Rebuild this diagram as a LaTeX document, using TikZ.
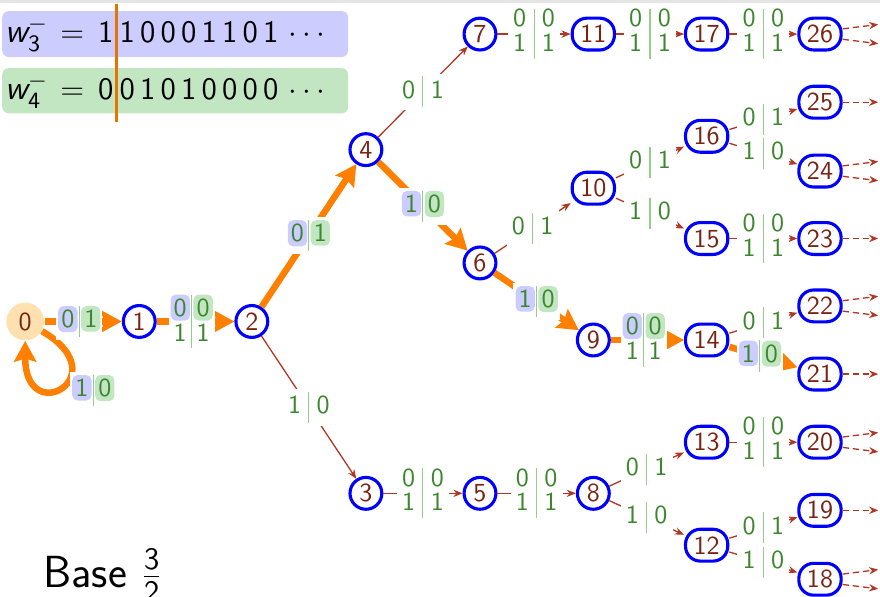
\documentclass[tikz,border=0pt]{standalone}
\usepackage{xcolor}
\usepackage{array}
\usepackage{tikz}
\usetikzlibrary{arrows.meta, positioning, calc}
\renewcommand{\familydefault}{\sfdefault}
\definecolor{stblue}{RGB}{0,0,255}
\definecolor{stbrown}{RGB}{120,35,20}
\definecolor{stfill}{RGB}{255,224,176}
\definecolor{trbrown}{RGB}{175,55,35}
\definecolor{lbgreen}{RGB}{60,135,45}
\definecolor{lbbar}{RGB}{150,205,140}
\definecolor{hlorange}{RGB}{255,128,0}
\definecolor{cutorange}{RGB}{232,116,0}
\definecolor{hlblue}{RGB}{204,204,255}
\definecolor{hlgreen}{RGB}{194,230,194}
% input|output pairs, one row or two rows (optional arg: gap at the bar)
\newcommand{\lab}[3][2.8pt]{{\setlength{\tabcolsep}{#1}%
  \begin{tabular}{@{}c!{{\color{lbbar}\vrule}}c@{}}#2&#3\end{tabular}}}
\newcommand{\labb}[5][2.8pt]{{\setlength{\tabcolsep}{#1}\renewcommand{\arraystretch}{0.78}%
  \begin{tabular}{@{}c!{{\color{lbbar}\vrule}}c@{}}#2&#3\\#4&#5\end{tabular}}}
% highlighted digits
\newcommand{\hb}[1]{\tikz[baseline]\node[anchor=base,fill=hlblue,rounded corners=2pt,
  inner xsep=1.2pt,inner ysep=1.5pt,text=lbgreen]{#1};}
\newcommand{\hg}[1]{\tikz[baseline]\node[anchor=base,fill=hlgreen,rounded corners=2pt,
  inner xsep=1.2pt,inner ysep=1.5pt,text=lbgreen]{#1};}
\tikzset{
  state/.style={circle,draw=stblue,line width=1.2pt,minimum size=0.43cm,inner sep=0pt,text=stbrown},
  wstate/.style={rectangle,rounded corners=0.2cm,draw=stblue,line width=1.2pt,
    minimum width=0.57cm,minimum height=0.43cm,inner sep=0pt,text=stbrown},
  start/.style={circle,fill=stfill,minimum size=0.51cm,inner sep=0pt,text=stbrown},
  trans/.style={draw=trbrown,line width=0.5pt,-{Stealth[length=3.5pt,width=2.8pt]}},
  more/.style={trans,dash pattern=on 2.5pt off 1.4pt},
  hlpath/.style={draw=hlorange,line width=2.5pt,-{Stealth[length=8pt,width=8.5pt,inset=1.2pt]}},
  elab/.style={fill=white,text=lbgreen,inner xsep=2pt,inner ysep=1pt},
  hlab/.style={elab,inner xsep=0.8pt},
  seq/.style={font=\fontsize{13}{15}\selectfont,inner sep=0pt},
  cutline/.style={draw=cutorange,line width=1.1pt}
}
\begin{document}
\begin{tikzpicture}
  \useasboundingbox (0,0) rectangle (11.88,8.05);
  \clip (0,0) rectangle (11.88,8.05);
  % header rule
  \fill[gray!20] (0,8.01) rectangle (11.88,8.05);

  % Digit sequences
  \fill[hlblue, rounded corners=2.5pt] (0.03,7.28) rectangle (4.70,7.90);
  \fill[hlgreen, rounded corners=2.5pt] (0.03,6.52) rectangle (4.70,7.13);
  \node[seq, anchor=base west] (w3head) at (0.07,7.47) {$\textsf{\itshape w}_{\mathsf{3}}^{-}\mkern2mu = \,\mathsf{1}$};
  \node[seq, anchor=base west] (w3tail) at ([xshift=2pt]w3head.base east) {$\mathsf{1\,0\,0\,0\,1\,1\,0\,1}\,\cdots$};
  \node[seq, anchor=base west] (w4head) at (0.07,6.70) {$\textsf{\itshape w}_{\mathsf{4}}^{-}\mkern2mu = \,\mathsf{0}$};
  \node[seq, anchor=base west] (w4tail) at ([xshift=2pt]w4head.base east) {$\mathsf{0\,1\,0\,1\,0\,0\,0\,0}\,\cdots$};
  \coordinate (cut) at ($(w3head.base east)!0.5!(w3tail.base west)$);
  \draw[cutline] (cut |- 0,8.00) -- (cut |- 0,6.40);

  % States
  \node[start] (s0) at (0.34,3.71) {0};
  \foreach \n/\x/\y in {1/1.88/3.71, 2/3.40/3.71, 3/4.94/1.39, 4/4.94/6.03, 5/6.48/1.39,
      6/6.48/4.50, 7/6.48/7.59, 8/8.01/1.39, 9/8.01/3.46}
    \node[state] (s\n) at (\x,\y) {\n};
  \foreach \n/\x/\y in {10/8.01/5.51, 11/8.01/7.59, 12/9.54/0.69, 13/9.54/2.08, 14/9.54/3.46,
      15/9.54/4.83, 16/9.54/6.21, 17/9.54/7.59, 18/11.07/0.23, 19/11.07/1.16, 20/11.07/2.08,
      21/11.07/3.00, 22/11.07/3.92, 23/11.07/4.83, 24/11.07/5.74, 25/11.07/6.67, 26/11.07/7.59}
    \node[wstate] (s\n) at (\x,\y) {\n};

  % Plain transitions
  \foreach \a/\b in {7/11, 11/17, 17/26, 15/23, 3/5, 5/8, 13/20}
    \draw[trans] (s\a) -- node[elab] {\labb{0}{0}{1}{1}} (s\b);
  \foreach \a/\b/\p/\q in {2/3/1/0, 4/7/0/1, 6/10/0/1, 10/16/0/1, 10/15/1/0, 16/25/0/1,
      16/24/1/0, 14/22/0/1, 8/13/0/1, 8/12/1/0, 12/19/0/1, 12/18/1/0}
    \draw[trans] (s\a) -- node[elab] {\lab{\p}{\q}} (s\b);

  % Highlighted run
  \draw[hlpath] (s0) to[out=-30, in=-90, distance=1.2cm] (s0);
  \node[hlab] (l00) at (1.26,2.78) {\lab[0.5pt]{\hb{1}}{\hg{0}}};
  \draw[hlpath] (s0) -- node[hlab, pos=0.45] {\lab[0.5pt]{\hb{0}}{\hg{1}}} (s1);
  \draw[hlpath] (s1) -- node[hlab, pos=0.45] {\labb[0.5pt]{\hb{0}}{\hg{0}}{1}{1}} (s2);
  \draw[hlpath] (s2) -- node[hlab] {\lab[0.5pt]{\hb{0}}{\hg{1}}} (s4);
  \draw[hlpath] (s4) -- node[hlab] {\lab[0.5pt]{\hb{1}}{\hg{0}}} (s6);
  \draw[hlpath] (s6) -- node[hlab] {\lab[0.5pt]{\hb{1}}{\hg{0}}} (s9);
  \draw[hlpath] (s9) -- node[hlab, pos=0.45] {\labb[0.5pt]{\hb{0}}{\hg{0}}{1}{1}} (s14);
  \draw[hlpath] (s14) -- node[hlab, pos=0.45] {\lab[0.5pt]{\hb{1}}{\hg{0}}} (s21);

  % Continuations past the last column
  \foreach \n in {26,24,22,20,18} {
    \coordinate (m\n u) at ($(s\n.east)+(0.48,0.13)$);
    \coordinate (m\n d) at ($(s\n.east)+(0.48,-0.13)$);
    \draw[more] ([yshift=2pt]s\n.east) -- (m\n u);
    \draw[more] ([yshift=-2pt]s\n.east) -- (m\n d);
  }
  \foreach \n in {25,23,21,19} {
    \coordinate (m\n) at ($(s\n.east)+(0.48,0)$);
    \draw[more] (s\n) -- (m\n);
  }

  \node[font=\LARGE, anchor=base west, inner sep=0pt] (base) at (0.58,0.12) {Base~$\frac{\mathsf{3}}{\mathsf{2}}$};
\end{tikzpicture}
\end{document}
